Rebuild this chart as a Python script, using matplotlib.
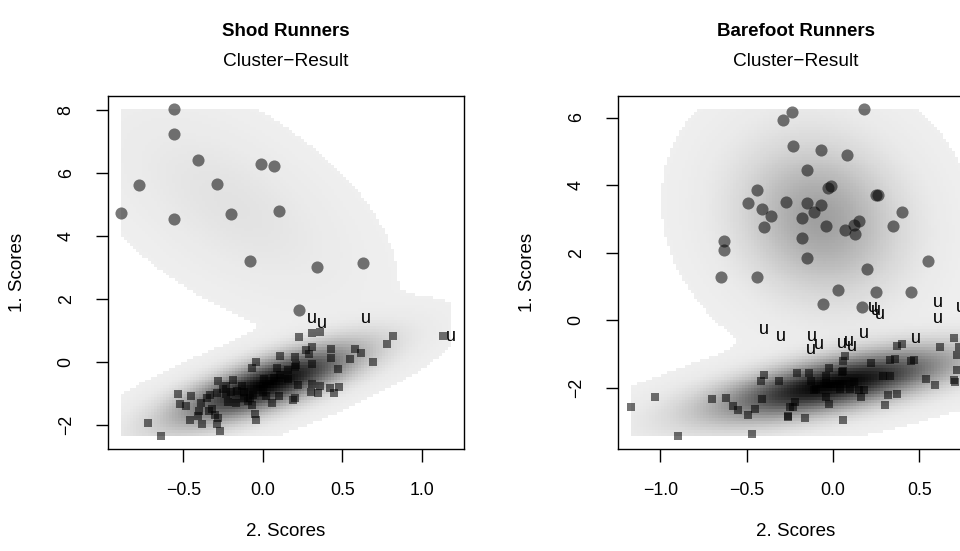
import matplotlib
matplotlib.use("Agg")
import matplotlib.pyplot as plt
import numpy as np
from matplotlib.colors import LinearSegmentedColormap
from matplotlib.ticker import FuncFormatter

plt.rcParams['font.family'] = ['Liberation Sans', 'DejaVu Sans']

# shod runners: cluster 1 (circles), cluster 2 (squares), uncertain ("u")
shod_c1_x = [-0.56, -0.56, -0.41, -0.01, 0.07, -0.78, -0.29, -0.89, -0.56, -0.20,
             0.10, -0.08, 0.34, 0.63, 0.23]
shod_c1_y = [8.02, 7.22, 6.40, 6.28, 6.20, 5.61, 5.64, 4.71, 4.54, 4.68,
             4.77, 3.21, 3.01, 3.13, 1.63]
shod_c2_x = [0.23, 0.31, 0.36, 0.82, 0.78, 0.27, 0.31, 0.29, 0.43, 0.58,
             0.62, 0.55, 0.69, 0.43, 0.47, 0.31, 0.20, 0.11, 0.21, 0.20,
             -0.04, -0.07, 0.09, 0.16, 0.01, 0.07, 0.11, 0.16, 0.22, 0.31,
             0.36, 0.42, 0.48, 0.30, 0.35, 0.45, 0.10, 0.20, 0.19, 0.06,
             0.02, -0.06, -0.08, -0.13, -0.16, -0.12, -0.09, -0.07, -0.05, -0.04,
             -0.19, -0.23, -0.25, -0.28, -0.29, -0.33, -0.35, -0.22, -0.17, -0.45,
             -0.53, -0.52, -0.48, -0.39, -0.40, -0.41, -0.34, -0.30, -0.29, -0.27,
             -0.38, -0.46, -0.72, -0.64, -0.28, -0.32, 1.13, -0.23, 0.00, -0.20,
             -0.12]
shod_c2_y = [0.77, 0.92, 0.95, 0.81, 0.56, 0.38, 0.45, 0.25, 0.39, 0.41,
             0.26, 0.09, 0.00, 0.11, -0.22, -0.06, 0.14, 0.17, -0.10, -0.18,
             -0.02, -0.21, -0.21, -0.27, -0.56, -0.52, -0.42, -0.56, -0.74, -0.70,
             -0.78, -0.85, -0.82, -0.96, -1.01, -1.01, -1.09, -1.14, -1.23, -1.32,
             -1.09, -1.05, -1.14, -0.78, -0.94, -0.98, -1.25, -1.37, -1.67, -1.86,
             -0.59, -0.79, -0.87, -0.63, -1.00, -1.05, -1.14, -1.28, -1.30, -1.09,
             -1.03, -1.35, -1.41, -1.30, -1.57, -1.73, -1.57, -1.69, -1.99, -2.20,
             -1.97, -1.86, -1.95, -2.36, -1.78, -1.51, 0.80, -1.04, -0.98, -0.95,
             -1.15]
shod_u_x = [0.31, 0.37, 0.65, 1.18]
shod_u_y = [1.36, 1.20, 1.38, 0.80]

# barefoot runners
bare_c1_x = [-0.24, -0.29, 0.18, -0.23, -0.07, 0.08, -0.15, -0.44, -0.49, -0.41,
             -0.36, -0.40, -0.27, -0.15, -0.07, -0.11, -0.18, -0.03, -0.01, -0.04,
             -0.18, -0.15, 0.07, 0.12, 0.15, 0.13, 0.25, 0.26, 0.35, 0.40,
             -0.63, -0.63, -0.65, -0.44, 0.55, 0.20, 0.03, 0.25, 0.45, -0.06,
             0.17]
bare_c1_y = [6.17, 5.94, 6.25, 5.17, 5.05, 4.90, 4.45, 3.84, 3.48, 3.28,
             3.09, 2.77, 3.51, 3.48, 3.41, 3.20, 3.02, 3.91, 3.96, 2.79,
             2.42, 1.83, 2.67, 2.82, 2.95, 2.54, 3.71, 3.71, 2.79, 3.19,
             2.34, 2.08, 1.29, 1.29, 1.75, 1.50, 0.89, 0.84, 0.82, 0.48,
             0.38]
bare_c2_x = [-1.17, -1.03, -0.90, -0.70, -0.62, -0.58, -0.55, -0.49, -0.45, -0.41,
             -0.47, -0.40, -0.42, -0.31, -0.26, -0.25, 0.37, 0.40, 0.36, 0.33,
             0.45, 0.47, 0.62, 0.70, 0.73, 0.72, 0.72, 0.70, 0.71, 0.54,
             0.59, 0.22, 0.29, 0.33, 0.32, 0.37, 0.30, 0.07, 0.06, 0.06,
             0.05, -0.02, -0.04, -0.04, -0.14, -0.21, -0.13, -0.10, -0.11, -0.04,
             -0.02, 0.04, 0.12, 0.10, 0.15, 0.18, 0.16, -0.22, -0.23, -0.26,
             -0.16, 0.06]
bare_c2_y = [-2.57, -2.28, -3.43, -2.35, -2.32, -2.55, -2.65, -2.80, -2.62, -2.35,
             -3.36, -1.63, -1.80, -1.80, -2.85, -2.57, -0.77, -0.72, -1.14, -1.19,
             -1.21, -1.19, -0.79, -0.54, -0.79, -1.04, -1.48, -1.76, -1.83, -1.73,
             -1.91, -1.27, -1.66, -1.65, -2.23, -2.20, -2.52, -1.07, -1.21, -1.50,
             -1.53, -1.41, -1.66, -1.86, -1.56, -1.58, -1.81, -2.03, -2.08, -2.28,
             -2.49, -2.05, -1.83, -2.03, -2.08, -2.06, -2.28, -2.42, -2.57, -2.87,
             -2.89, -2.97]
bare_u_x = [-0.40, -0.30, -0.12, -0.08, -0.13, 0.05, 0.09, 0.11, 0.18, 0.23,
            0.25, 0.27, 0.48, 0.61, 0.61, 0.74]
bare_u_y = [-0.28, -0.48, -0.48, -0.72, -0.87, -0.69, -0.62, -0.79, -0.40, 0.38,
            0.28, 0.17, -0.53, 0.52, 0.06, 0.37]

W, H = 960, 551
gray_cmap = LinearSegmentedColormap.from_list('dens', [(0, 0, 0), (0.94, 0.94, 0.94)])


def mixture_density(gx, gy, groups):
    total = sum(len(g[0]) for g in groups)
    dens = np.zeros_like(gx)
    for px, py in groups:
        pts = np.column_stack([px, py])
        mu = pts.mean(axis=0)
        cov = np.cov(pts.T)
        inv = np.linalg.inv(cov)
        dx = gx - mu[0]
        dy = gy - mu[1]
        m = inv[0, 0] * dx * dx + 2 * inv[0, 1] * dx * dy + inv[1, 1] * dy * dy
        dens += len(px) / total * np.exp(-0.5 * m) / (2 * np.pi * np.sqrt(np.linalg.det(cov)))
    return dens


def fmt(v, pos, digits):
    return f"{v:.{digits}f}".replace('-', '\u2212')


def panel(left_px, title, c1x, c1y, c2x, c2y, ux, uy, xticks, yticks):
    ax = fig.add_axes([left_px / W, 1 - 449 / H, 355.7 / W, (449 - 96) / H])
    allx = np.concatenate([c1x, c2x, ux])
    ally = np.concatenate([c1y, c2y, uy])
    x0, x1 = allx.min(), allx.max()
    y0, y1 = ally.min(), ally.max()

    # mixture density on a coarse grid over the data range
    gx, gy = np.meshgrid(np.linspace(x0, x1, 110), np.linspace(y0, y1, 110))
    d = mixture_density(gx, gy, [(c1x, c1y), (c2x, c2y)])
    z = np.ma.masked_where(d < 0.003 * d.max(), 1 - d / d.max())
    ax.imshow(z, extent=(x0, x1, y0, y1), origin='lower', aspect='auto',
              interpolation='nearest', cmap=gray_cmap, vmin=0, vmax=1, zorder=0)

    ax.scatter(c1x, c1y, s=76, marker='o', c='black', alpha=0.53, linewidths=0, zorder=2)
    ax.scatter(c2x, c2y, s=32, marker='s', c='black', alpha=0.55, linewidths=0, zorder=2)
    for x, y in zip(ux, uy):
        ax.text(x, y, 'u', ha='center', va='center', fontsize=13, zorder=3)

    ax.set_xlim(x0 - 0.04 * (x1 - x0), x1 + 0.04 * (x1 - x0))
    ax.set_ylim(y0 - 0.04 * (y1 - y0), y1 + 0.04 * (y1 - y0))
    ax.set_xticks(xticks)
    ax.set_yticks(yticks)
    ax.xaxis.set_major_formatter(FuncFormatter(lambda v, p: fmt(v, p, 1)))
    ax.yaxis.set_major_formatter(FuncFormatter(lambda v, p: fmt(v, p, 0)))
    ax.tick_params(direction='out', length=9, width=1, labelsize=12.8, pad=15)
    for lab in ax.get_yticklabels():
        lab.set_rotation(90)
        lab.set_va('center')
    for s in ax.spines.values():
        s.set_linewidth(1)

    cx = (left_px + 355.7 / 2) / W
    fig.text(cx, 1 - 32 / H, title, ha='center', va='center', fontsize=13.5, weight='bold')
    fig.text(cx, 1 - 61 / H, 'Cluster\u2212Result', ha='center', va='center', fontsize=13.8)
    fig.text(cx, 1 - 531 / H, '2. Scores', ha='center', va='center', fontsize=13.5)
    fig.text((left_px - 91) / W, 1 - 272.5 / H, '1. Scores', ha='center', va='center',
             rotation=90, fontsize=13.5)
    return ax


fig = plt.figure(figsize=(9.6, 5.51), dpi=100)
panel(108, 'Shod Runners', np.array(shod_c1_x), np.array(shod_c1_y),
      np.array(shod_c2_x), np.array(shod_c2_y), np.array(shod_u_x), np.array(shod_u_y),
      [-0.5, 0.0, 0.5, 1.0], [-2, 0, 2, 4, 6, 8])
panel(618, 'Barefoot Runners', np.array(bare_c1_x), np.array(bare_c1_y),
      np.array(bare_c2_x), np.array(bare_c2_y), np.array(bare_u_x), np.array(bare_u_y),
      [-1.0, -0.5, 0.0, 0.5], [-2, 0, 2, 4, 6])

fig.savefig('out.png', dpi=100)
